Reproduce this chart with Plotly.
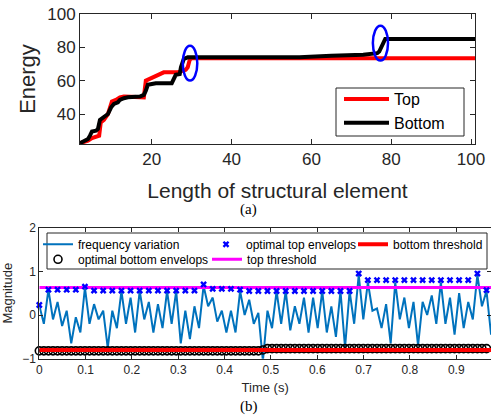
import numpy as np
import plotly.graph_objects as go

# ---------------- Panel (a) data ----------------
top_x = [2, 3, 4, 5, 6, 6.8, 7.2, 8, 9, 9.5, 10, 11, 12, 13, 17.5, 18, 18.5, 19.5, 20.5,
         21.5, 22, 23, 26.5, 27.5, 28.5, 29, 29.5, 30, 101]
top_y = [22.5, 23, 24, 25.5, 26, 27, 35, 36.5, 40, 45, 47.5, 48.5, 50, 50.5, 50.5, 50, 60, 61,
         62.5, 63, 64, 65, 65, 65.5, 66.5, 68, 72.5, 73.5, 73.5]

bottom_x = [2, 3, 4, 4.5, 5, 6, 6.5, 7, 8, 9, 9.8, 10.5, 11.5, 12, 13, 14, 17, 18, 18.5, 19, 20,
            21, 25, 25.5, 26, 27, 27.3, 28, 29, 57, 60, 65, 73, 75, 76.5, 77, 77.8, 78.5, 101]
bottom_y = [22.5, 23.5, 25, 27, 29.5, 30, 31, 36.5, 38, 40, 44, 46, 47, 48.5, 49.5, 50, 50.5,
            51.5, 54, 57.5, 58, 58.5, 58.5, 61, 63.5, 64, 68, 73, 74, 74, 74.5, 75, 75.5, 76,
            76.5, 77.5, 82, 85, 85]

x_ticks_a = [20, 40, 60, 80, 100]
y_ticks_a = [40, 60, 80, 100]

# ---------------- Panel (b) data ----------------
freq_variation = [
    0.22, -0.2, 0.58, -0.1, 0.3, -0.25, 0.1, -0.65, -0.05, -0.4,
    0.63, -0.2, 0.25, -0.1, 0.1, -0.75, 0.1, -0.3, 0.55, -0.2,
    0.4, -0.4, 0.55, -0.1, 0.3, -0.4, 0.25, -0.3, 0.55, -0.2,
    0.55, -0.65, 0.1, -0.55, 0.2, -0.3, 0.67, 0.2, 0.4, -0.15,
    0.1, -0.4, 0.1, -0.4, 0.55, 0.0, 0.35, -0.2, 0.05, -1.05,
    0.1, -0.3, 0.55, -0.2, 0.55, -0.35, 0.2, -0.2, 0.4, -0.4,
    0.4, -0.3, 0.55, -0.4, 0.2, -0.5, 0.55, -0.75, 0.55, -0.2,
    0.92, -0.1, 0.75, 0.1, 0.15, -0.3, 0.25, -0.65, 0.75, -0.1,
    0.4, -0.3, 0.3, -0.7, 0.3, 0.0, 0.45, -0.2, 0.75, -0.2,
    0.4, -0.45, 0.5, -0.3, 0.3, -0.1, 0.92, 0.2, 0.55, -0.45,
]
top_envelope = [
    0.23, 0.58, 0.58, 0.58, 0.58, 0.65, 0.56, 0.56, 0.56, 0.56,
    0.56, 0.56, 0.56, 0.56, 0.56, 0.56, 0.56, 0.56, 0.7, 0.6,
    0.6, 0.6, 0.58, 0.55, 0.55, 0.55, 0.55, 0.55, 0.55, 0.55,
    0.55, 0.55, 0.55, 0.55, 0.55, 0.95, 0.8, 0.8, 0.8, 0.8,
    0.8, 0.8, 0.8, 0.8, 0.8, 0.8, 0.8, 0.8, 0.95, 0.57,
]
bottom_envelope = [
    -0.82, -0.82, -0.82, -0.82, -0.82, -0.82, -0.82, -0.82, -0.82, -0.82,
    -0.82, -0.82, -0.82, -0.82, -0.82, -0.82, -0.82, -0.82, -0.82, -0.82,
    -0.82, -0.82, -0.82, -0.82, -0.82, -0.82, -0.82, -0.82, -0.82, -0.82,
    -0.82, -0.82, -0.82, -0.82, -0.82, -0.82, -0.82, -0.82, -0.82, -0.82,
    -0.82, -0.82, -0.82, -0.82, -0.82, -0.82, -0.82, -0.82, -0.82, -0.8,
    -0.77, -0.77, -0.77, -0.77, -0.77, -0.77, -0.77, -0.77, -0.77, -0.77,
    -0.77, -0.77, -0.77, -0.77, -0.77, -0.77, -0.77, -0.77, -0.77, -0.77,
    -0.77, -0.77, -0.77, -0.77, -0.77, -0.77, -0.77, -0.77, -0.77, -0.77,
    -0.77, -0.77, -0.77, -0.77, -0.77, -0.77, -0.77, -0.77, -0.77, -0.77,
    -0.77, -0.77, -0.77, -0.77, -0.77, -0.77, -0.77, -0.77, -0.77, -0.77,
]
top_threshold = 0.63
bottom_threshold = -0.8
sample_step = 0.00985
time = np.arange(len(freq_variation)) * sample_step
time_end = 0.975

x_ticks_b = [0, 0.1, 0.2, 0.3, 0.4, 0.5, 0.6, 0.7, 0.8, 0.9]
y_ticks_b = [-1, 0, 1, 2]

# ---------------- Layout helpers ----------------
W, H = 491, 416
FONT = "Liberation Sans, Arial, sans-serif"
SERIF = "Liberation Serif, Times New Roman, serif"
AX = "#262626"


def px(p):
    return p / W


def py(p):
    return 1 - p / H


fig = go.Figure()

# Panel (a)
fig.add_trace(go.Scatter(x=top_x, y=top_y, mode="lines", name="Top",
                         line=dict(color="#ff0000", width=4),
                         xaxis="x", yaxis="y", legend="legend"))
fig.add_trace(go.Scatter(x=bottom_x, y=bottom_y, mode="lines", name="Bottom",
                         line=dict(color="#000000", width=4),
                         xaxis="x", yaxis="y", legend="legend"))

# Panel (b)
fig.add_trace(go.Scatter(x=time, y=freq_variation, mode="lines", name="frequency variation",
                         line=dict(color="#0072BD", width=2),
                         xaxis="x2", yaxis="y2", legend="legend2"))
fig.add_trace(go.Scatter(x=time, y=bottom_envelope, mode="markers", name="optimal bottom envelops",
                         marker=dict(symbol="circle-open", size=8, color="#000000",
                                     line=dict(width=1.6, color="#000000")),
                         cliponaxis=False, xaxis="x2", yaxis="y2", legend="legend5"))
fig.add_trace(go.Scatter(x=[0, time_end], y=[bottom_threshold, bottom_threshold], mode="lines",
                         name="bottom threshold", line=dict(color="#ff0000", width=4),
                         xaxis="x2", yaxis="y2", legend="legend4"))
fig.add_trace(go.Scatter(x=[0, time_end], y=[top_threshold, top_threshold], mode="lines",
                         name="top threshold", line=dict(color="#ff00ff", width=3),
                         xaxis="x2", yaxis="y2", legend="legend6"))
fig.add_trace(go.Scatter(x=time[::2], y=top_envelope, mode="markers", name="optimal top envelops",
                         marker=dict(symbol="x", size=6, color="#0000ff",
                                     line=dict(width=0)),
                         cliponaxis=False, xaxis="x2", yaxis="y2", legend="legend3"))

axis_common = dict(showline=True, linecolor=AX, linewidth=1, mirror="ticks", ticks="inside",
                   tickcolor=AX, showgrid=False, zeroline=False, automargin=False)

small_leg = dict(bgcolor="rgba(0,0,0,0)", borderwidth=0, font=dict(family=FONT, size=12, color="#000000"),
                 xanchor="left", yanchor="middle", itemwidth=30)

fig.update_layout(
    width=W, height=H,
    margin=dict(l=0, r=0, t=0, b=0, autoexpand=False),
    paper_bgcolor="white", plot_bgcolor="white",
    font=dict(family=FONT, color=AX),
    xaxis=dict(domain=[px(80), px(475)], anchor="y", range=[2, 101], tickvals=x_ticks_a,
               ticklen=5, tickfont=dict(size=17, color=AX),
               title=dict(text="Length of structural element", font=dict(size=21, color=AX), standoff=14),
               **axis_common),
    yaxis=dict(domain=[py(144), py(14)], anchor="x", range=[22, 100], tickvals=y_ticks_a,
               ticklen=5, tickfont=dict(size=17, color=AX),
               title=dict(text="Energy", font=dict(size=22, color=AX), standoff=5),
               **axis_common),
    xaxis2=dict(domain=[px(39.3), 1], anchor="y2", range=[0, time_end], tickvals=x_ticks_b,
                ticklen=4, tickfont=dict(size=12, color=AX),
                title=dict(text="Time (s)", font=dict(size=13, color=AX), standoff=6),
                **axis_common),
    yaxis2=dict(domain=[py(358.7), py(227.7)], anchor="x2", range=[-1, 2], tickvals=y_ticks_b,
                ticklen=4, tickfont=dict(size=12, color=AX),
                title=dict(text="Magnitude", font=dict(size=13, color=AX), standoff=6),
                **axis_common),
    legend=dict(x=px(339), y=py(111), xanchor="left", yanchor="middle", bgcolor="rgba(0,0,0,0)",
                borderwidth=0, itemwidth=45,
                font=dict(family=FONT, size=16, color="#000000")),
    legend2=dict(x=px(80 - 42), y=py(244.3), **small_leg),
    legend3=dict(x=px(248 - 42), y=py(244.3), **small_leg),
    legend4=dict(x=px(395 - 42), y=py(244.3), **small_leg),
    legend5=dict(x=px(80 - 42), y=py(259.3), **small_leg),
    legend6=dict(x=px(249 - 42), y=py(259.3), **small_leg),
    shapes=[
        dict(type="circle", xref="x", yref="y", x0=27.75, x1=31.4, y0=60.1, y1=80.9,
             line=dict(color="#0000ff", width=2.5)),
        dict(type="circle", xref="x", yref="y", x0=75.4, x1=79.2, y0=72.1, y1=93,
             line=dict(color="#0000ff", width=2.5)),
        dict(type="rect", xref="paper", yref="paper", x0=px(336), x1=px(464), y0=py(136), y1=py(88),
             line=dict(color=AX, width=1), fillcolor="white", layer="above"),
        dict(type="rect", xref="paper", yref="paper", x0=px(47), x1=px(487), y0=py(269), y1=py(233),
             line=dict(color=AX, width=1), fillcolor="white", layer="above"),
    ],
    annotations=[
        dict(text="(a)", x=px(248), y=py(209), xref="paper", yref="paper", showarrow=False,
             xanchor="center", yanchor="middle",
             font=dict(family=SERIF, size=15, color="#000000")),
        dict(text="(b)", x=px(249), y=py(406), xref="paper", yref="paper", showarrow=False,
             xanchor="center", yanchor="middle",
             font=dict(family=SERIF, size=15, color="#000000")),
    ],
)

fig.write_html("out.html", config={"displayModeBar": False},
               post_script="document.body.style.margin='0';document.body.style.overflow='hidden';")
